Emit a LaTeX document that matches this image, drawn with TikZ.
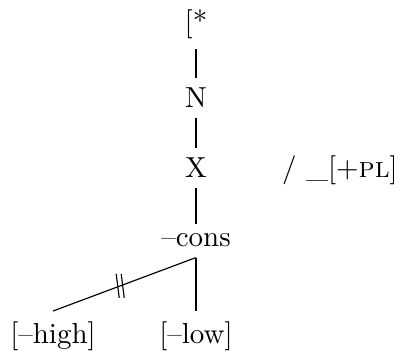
\documentclass[tikz,border=0pt]{standalone}
\usetikzlibrary{positioning}
\tikzset{
  feat/.style={anchor=base},
  link/.style={line width=0.4pt},
  hashmark/.style={line width=0.4pt}
}
\begin{document}
\begin{tikzpicture}[x=0.345pt, y=-0.345pt]
  \useasboundingbox (0,0) rectangle (394,351);
  \node[feat] (root) at (196,32) {[*};
  \node[feat] (n) at (196,108) {N};
  \node[feat] (x) at (196,178) {X};
  \node[feat] (cons) at (196,247) {--cons};
  \node[feat] (env) at (340,178) {/ \_[+\textsc{pl}]};
  \node[feat] (high) at (53,343) {[--high]};
  \node[feat] (low) at (196,343) {[--low]};
  \draw[link] (root) -- (n);
  \draw[link] (n) -- (x);
  \draw[link] (x) -- (cons);
  \draw[link] (cons.south) -- (low.north);
  \draw[link] (cons.south) -- coordinate[pos=0.53] (cut) (high.north);
  \draw[hashmark] (cut) ++(-4,-12) -- ++(3,24);
  \draw[hashmark] (cut) ++(1,-12) -- ++(3,24);
\end{tikzpicture}
\end{document}
